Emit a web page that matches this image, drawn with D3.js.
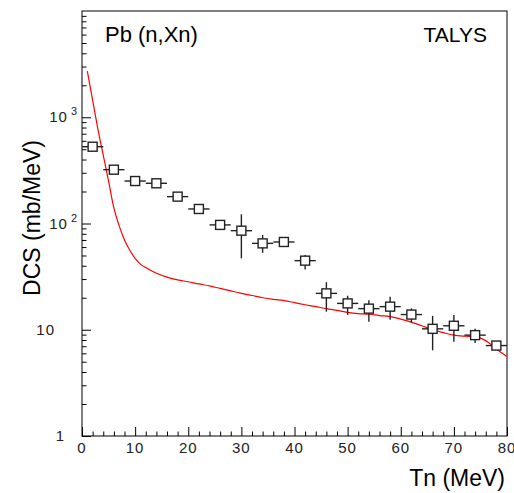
<!DOCTYPE html>
<html>
<head>
<meta charset="utf-8">
<script src="https://cdn.jsdelivr.net/npm/d3@7"></script>
<style>
  body { margin: 0; background: #fff; }
  text { font-family: "Liberation Sans", Arial, sans-serif; }
</style>
</head>
<body>
<div id="chart"></div>
<script>
// measured points (Tn in MeV, DCS in mb/MeV)
var pointTn  = [2, 6, 10, 14, 18, 22, 26, 30, 34, 38, 42, 46, 50, 54, 58, 62, 66, 70, 74, 78];
var pointDcs = [528, 321, 251, 239, 179, 137, 97, 85.6, 65, 67, 44.7, 22, 17.7, 15.8, 16.5, 13.9, 10.2, 10.9, 8.9, 7.1];
var pointHi  = [560, 340, 265, 252, 190, 145, 103, 122, 78, 71, 50.6, 28, 20.9, 19, 20.5, 15.9, 13.5, 13.8, 10.2, 7.5];
var pointLo  = [498, 303, 238, 227, 169, 130, 92, 47, 53, 63, 37, 14.8, 13.8, 11.9, 12.4, 11.7, 6.4, 7.7, 7.5, 6.7];
var binHalf  = 2;

// TALYS calculation
var talysTn  = [1, 2, 3, 4, 5, 6, 7, 8, 9, 10, 11, 12, 14, 16, 18, 20, 22, 24, 26, 28, 30, 32, 34, 36, 38, 40,
                42, 44, 46, 48, 50, 52, 54, 56, 58, 60, 62, 64, 66, 68, 70, 72, 74, 76, 78, 80];
var talysDcs = [2720, 1450, 770, 440, 250, 140, 95, 70, 56, 47, 41.5, 38.5, 34, 31.3, 29.5, 28.3, 27, 25.9, 24.5, 23.2,
                22, 21, 20, 19.3, 18.8, 18, 17.2, 16.5, 15.8, 15.2, 14.6, 14.2, 14, 13.6, 13.3, 12.6, 11.8, 10.9,
                10, 9.4, 8.9, 8.7, 8.6, 7.9, 6.6, 5.6];

var xMajor = [0, 10, 20, 30, 40, 50, 60, 70, 80];
var yMajor = [1, 10, 100, 1000];
var yLabelBase = ["1", "10", "10", "10"];
var yLabelExp  = ["", "", "2", "3"];

// dimensions
var margin = {top: 11, right: 7, bottom: 57, left: 82},
    width = 514 - margin.left - margin.right,
    height = 493 - margin.top - margin.bottom;

var svg = d3.select("#chart")
  .append("svg")
    .attr("width", 514)
    .attr("height", 493)
  .append("g")
    .attr("transform", "translate(" + margin.left + "," + margin.top + ")");

var x = d3.scaleLinear().domain([0, 80]).range([0, width]);
var y = d3.scaleLog().domain([1, 10000]).range([height, 0]);

// minor ticks
var xMinor = d3.range(0, 81, 2).filter(function(d) { return d % 10 != 0; });
var yMinor = [];
[1, 10, 100, 1000].forEach(function(dec) {
  for (var k = 2; k <= 9; k++) yMinor.push(dec * k);
});

var tickColor = "#000";
function drawTicks(g) {
  g.select(".domain").remove();
  g.selectAll("line").attr("stroke", tickColor).attr("stroke-width", 1);
}

svg.append("g")
  .attr("transform", "translate(0," + height + ")")
  .call(d3.axisBottom(x).tickValues(xMinor).tickSize(-4.5).tickFormat(""))
  .call(drawTicks);
svg.append("g")
  .attr("transform", "translate(0," + height + ")")
  .call(d3.axisBottom(x).tickValues(xMajor).tickSize(-9).tickFormat(""))
  .call(drawTicks);
svg.append("g")
  .call(d3.axisLeft(y).tickValues(yMinor).tickSize(-4.5).tickFormat(""))
  .call(drawTicks);
svg.append("g")
  .call(d3.axisLeft(y).tickValues(yMajor).tickSize(-9).tickFormat(""))
  .call(drawTicks);

// x tick labels
svg.selectAll(".xlab")
  .data(xMajor)
  .enter()
  .append("text")
    .attr("x", function(d) { return x(d); })
    .attr("y", height + 17)
    .attr("text-anchor", "middle")
    .style("font-size", "15px")
    .style("letter-spacing", "1px")
    .style("fill", "#222")
    .text(function(d) { return d; });

// y tick labels (10^n style)
yMajor.forEach(function(v, i) {
  var t = svg.append("text")
    .attr("y", y(v) + 5)
    .attr("text-anchor", "end")
    .style("font-size", "15px")
    .style("letter-spacing", "1px")
    .style("fill", "#222");
  if (yLabelExp[i]) {
    t.attr("x", -4);
    t.append("tspan").text(yLabelBase[i]);
    t.append("tspan")
      .attr("dx", 3)
      .attr("dy", -7)
      .style("font-size", "11px")
      .text(yLabelExp[i]);
  } else {
    t.attr("x", -7 - 10 * yLabelBase[i].length).text(yLabelBase[i]);
  }
});

// frame
svg.append("rect")
  .attr("width", width)
  .attr("height", height)
  .attr("fill", "none")
  .attr("stroke", "#000")
  .attr("stroke-width", 1);

// TALYS curve
var line = d3.line()
  .x(function(d, i) { return x(talysTn[i]); })
  .y(function(d) { return y(d); })
  .curve(d3.curveMonotoneX);

svg.append("path")
  .datum(talysDcs)
  .attr("fill", "none")
  .attr("stroke", "#ff0000")
  .attr("stroke-width", 1.2)
  .attr("d", line);

// data points with error bars
var pts = svg.selectAll(".pt")
  .data(pointTn)
  .enter()
  .append("g");

pts.append("line")
  .attr("x1", function(d) { return x(Math.max(0, d - binHalf)); })
  .attr("x2", function(d) { return x(Math.min(80, d + binHalf)); })
  .attr("y1", function(d, i) { return y(pointDcs[i]); })
  .attr("y2", function(d, i) { return y(pointDcs[i]); })
  .attr("stroke", "#222")
  .attr("stroke-width", 1.4);

pts.append("line")
  .attr("x1", function(d) { return x(d); })
  .attr("x2", function(d) { return x(d); })
  .attr("y1", function(d, i) { return y(pointHi[i]); })
  .attr("y2", function(d, i) { return y(pointLo[i]); })
  .attr("stroke", "#222")
  .attr("stroke-width", 1.4);

pts.append("rect")
  .attr("x", function(d) { return x(d) - 4.5; })
  .attr("y", function(d, i) { return y(pointDcs[i]) - 4.5; })
  .attr("width", 9)
  .attr("height", 9)
  .attr("fill", "#fff")
  .attr("stroke", "#222")
  .attr("stroke-width", 1.4);

// titles
svg.append("text")
  .attr("x", 23)
  .attr("y", 31)
  .style("font-size", "22px")
  .text("Pb (n,Xn)");

svg.append("text")
  .attr("x", width - 20)
  .attr("y", 31)
  .attr("text-anchor", "end")
  .style("font-size", "21px")
  .text("TALYS");

svg.append("text")
  .attr("x", width - 2)
  .attr("y", height + 50)
  .attr("text-anchor", "end")
  .style("font-size", "23px")
  .text("Tn (MeV)");

svg.append("text")
  .attr("transform", "rotate(-90)")
  .attr("x", -129)
  .attr("y", -42)
  .attr("text-anchor", "end")
  .style("font-size", "23px")
  .text("DCS (mb/MeV)");
</script>
</body>
</html>
